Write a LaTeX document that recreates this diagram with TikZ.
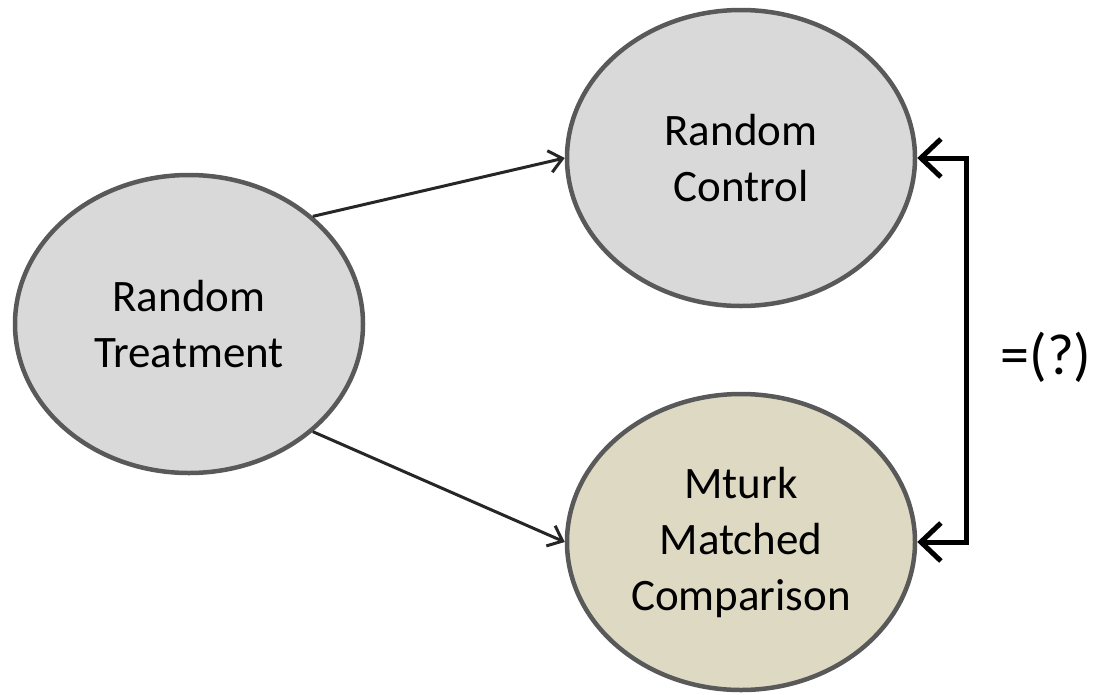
\documentclass[tikz,border=0pt]{standalone}
\usepackage{fontspec}
\setmainfont{Carlito}
\usetikzlibrary{shapes.geometric,arrows.meta}
\definecolor{fillgray}{HTML}{D9D9D9}
\definecolor{filltan}{HTML}{DDD9C3}
\definecolor{edgegray}{HTML}{595959}
\tikzset{
  oval/.style={ellipse, draw=edgegray, line width=4.5pt, inner sep=0pt,
    minimum width=348pt, minimum height=298pt, align=center,
    font=\fontsize{45}{56}\selectfont},
  link/.style={line width=3pt, black!85, -{Straight Barb[length=13pt,width=22pt,line width=3pt]}},
  bracket/.style={line width=5pt, line join=miter,
    {Straight Barb[length=20pt,width=38pt,line width=5pt]}-{Straight Barb[length=20pt,width=38pt,line width=5pt]}}
}
\begin{document}
\begin{tikzpicture}[x=1pt,y=-1pt]
\path[use as bounding box] (0,0) rectangle (1100,694);
\node[oval, fill=fillgray] (rt) at (189,324) {Random\\Treatment};
\node[oval, fill=fillgray, minimum height=296pt] (rc) at (741,158) {Random\\Control};
\node[oval, fill=filltan, minimum height=296pt] (mm) at (741,542) {Mturk\\Matched\\Comparison};
\draw[link] (rt.41) -- (rc.west);
\draw[link] (rt.-41) -- (mm.west);
\coordinate (bk) at ([xshift=49pt]rc.east);
\draw[bracket] (rc.east) -- (bk) |- (mm.east);
\node[font=\fontsize{58}{68}\selectfont, anchor=center] (eq) at (1046,357) {=(?)};
\end{tikzpicture}
\end{document}
